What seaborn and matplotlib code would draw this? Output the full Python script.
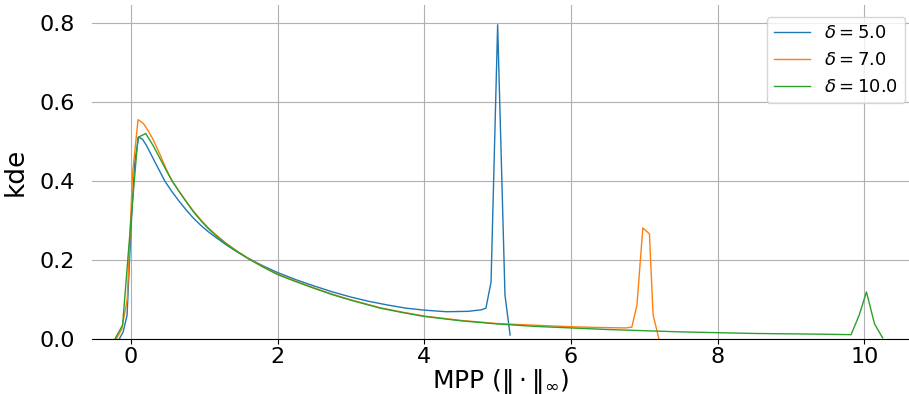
import numpy as np
import pandas as pd
import matplotlib
matplotlib.use("Agg")
import matplotlib.pyplot as plt
import seaborn as sns

labels = [r"$\delta=5.0$", r"$\delta=7.0$", r"$\delta=10.0$"]

x_d5 = [-0.16, -0.107, -0.054, 0.0, 0.052, 0.105, 0.158, 0.21, 0.26, 0.32, 0.39, 0.46, 0.55,
        0.65, 0.75, 0.85, 0.95, 1.05, 1.15, 1.3, 1.45, 1.6, 1.8, 2.0, 2.25, 2.5, 2.75, 3.0,
        3.25, 3.5, 3.75, 4.0, 4.3, 4.6, 4.78, 4.84, 4.91, 5.0, 5.1, 5.17]
y_d5 = [0.0, 0.018, 0.06, 0.28, 0.45, 0.511, 0.505, 0.49, 0.472, 0.45, 0.425, 0.40, 0.375,
        0.35, 0.327, 0.306, 0.288, 0.272, 0.258, 0.238, 0.22, 0.204, 0.185, 0.168, 0.15, 0.134,
        0.119, 0.106, 0.095, 0.086, 0.078, 0.073, 0.069, 0.070, 0.074, 0.078, 0.144, 0.795,
        0.111, 0.01]

x_d7 = [-0.2, -0.126, -0.052, 0.022, 0.096, 0.17, 0.24, 0.3, 0.4, 0.48, 0.56, 0.65, 0.75,
        0.85, 0.95, 1.05, 1.15, 1.3, 1.45, 1.6, 1.8, 2.0, 2.25, 2.5, 2.75, 3.0, 3.2, 3.4, 3.7,
        4.0, 4.5, 5.0, 5.5, 6.0, 6.4, 6.75, 6.83, 6.90, 6.98, 7.07, 7.12, 7.2]
y_d7 = [0.0, 0.025, 0.10, 0.42, 0.555, 0.545, 0.525, 0.505, 0.465, 0.43, 0.40, 0.375, 0.349,
        0.324, 0.302, 0.282, 0.265, 0.242, 0.222, 0.204, 0.183, 0.164, 0.146, 0.129, 0.113,
        0.099, 0.089, 0.079, 0.068, 0.058, 0.047, 0.039, 0.035, 0.031, 0.029, 0.028, 0.030,
        0.086, 0.281, 0.266, 0.061, 0.0]

x_d10 = [-0.22, -0.115, -0.01, 0.095, 0.2, 0.3, 0.4, 0.5, 0.56, 0.65, 0.75, 0.85, 0.95, 1.05,
         1.15, 1.3, 1.45, 1.6, 1.8, 2.0, 2.25, 2.5, 2.75, 3.0, 3.2, 3.4, 3.7, 4.0, 4.5, 5.0,
         5.5, 6.0, 6.5, 7.0, 7.5, 8.0, 8.5, 9.0, 9.5, 9.82, 9.93, 10.03, 10.14, 10.25]
y_d10 = [0.0, 0.035, 0.28, 0.51, 0.52, 0.49, 0.455, 0.42, 0.40, 0.375, 0.348, 0.322, 0.30,
         0.28, 0.263, 0.24, 0.221, 0.203, 0.182, 0.163, 0.145, 0.128, 0.112, 0.098, 0.088,
         0.078, 0.067, 0.057, 0.046, 0.038, 0.032, 0.028, 0.024, 0.021, 0.018, 0.016, 0.014,
         0.013, 0.012, 0.011, 0.06, 0.119, 0.038, 0.003]

frames = []
for lab, xs, ys in zip(labels, [x_d5, x_d7, x_d10], [y_d5, y_d7, y_d10]):
    frames.append(pd.DataFrame({"x": xs, "kde": ys, "delta": lab}))
df = pd.concat(frames, ignore_index=True)

fig = plt.figure(figsize=(9.09, 3.94), dpi=100)
ax = fig.add_axes([92 / 909, 1 - 339 / 394, 1 - 92 / 909, (339 - 5) / 394])
sns.lineplot(data=df, x="x", y="kde", hue="delta", hue_order=labels,
             palette=["#1f77b4", "#ff7f0e", "#2ca02c"], linewidth=1.0,
             estimator=None, sort=False, ax=ax)

ax.set_xlim(-0.532, 10.61)
ax.set_ylim(0, 0.845)
ax.set_xticks([0, 2, 4, 6, 8, 10])
ax.set_yticks([0.0, 0.2, 0.4, 0.6, 0.8])
ax.grid(True, color="#b0b0b0", linewidth=0.8)
ax.set_axisbelow(True)
for s in ["top", "right", "left"]:
    ax.spines[s].set_visible(False)
ax.spines["bottom"].set_color("black")
ax.tick_params(axis="both", labelsize=16)
ax.tick_params(axis="x", pad=2)
ax.tick_params(axis="y", length=0, pad=12)
ax.set_xlabel(r"MPP ($\|\cdot\|_\infty$)", fontsize=18, labelpad=0)
ax.set_ylabel("kde", fontsize=19, labelpad=8)
leg = ax.legend(loc="upper right", fontsize=13, title=None,
                bbox_to_anchor=(1.0, 0.975), borderaxespad=0.2)
fig.savefig("out.png", dpi=100)
